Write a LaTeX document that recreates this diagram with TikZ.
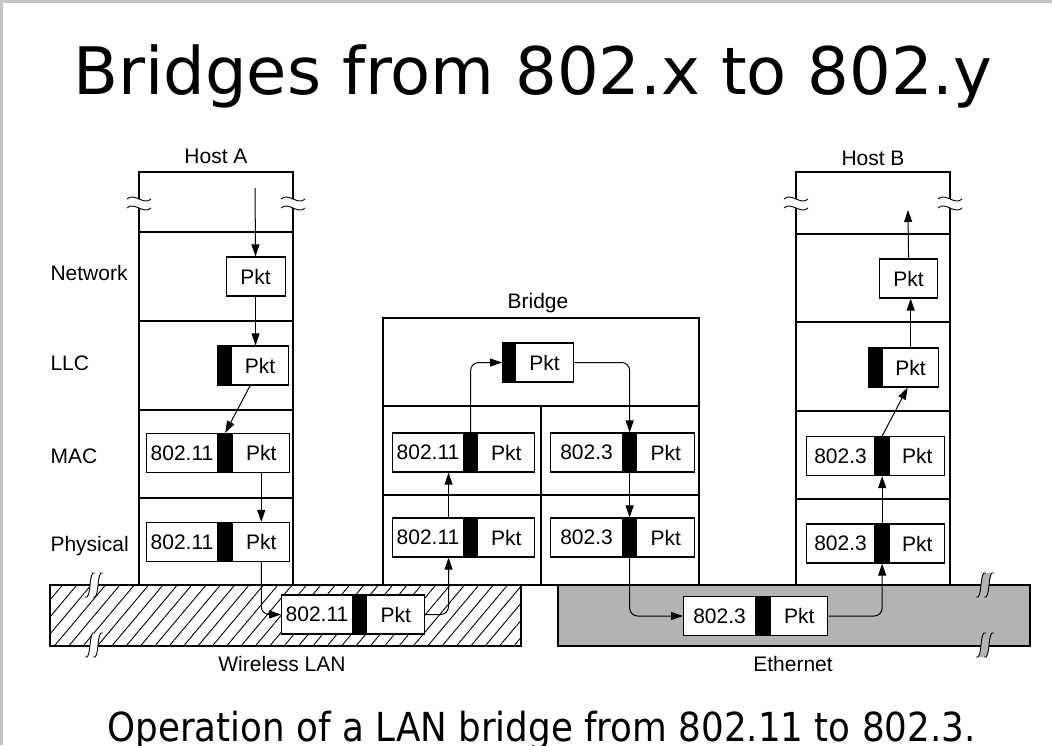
\documentclass[tikz,border=0pt]{standalone}
\usepackage{fontspec}
\usepackage{graphicx}
\setmainfont{Liberation Sans}
\newfontfamily\slidefont{DejaVu Sans}
\usetikzlibrary{arrows.meta,patterns.meta}
\definecolor{ethgray}{RGB}{179,179,179}
\definecolor{edgegray}{RGB}{196,196,196}
\tikzset{
  sidebreak/.pic={
    \fill[white] (-12,-4.5) .. controls (-5,-11.5) and (5,2.5) .. (12,-4.5)
      -- (12,4.5) .. controls (5,11.5) and (-5,-2.5) .. (-12,4.5) -- cycle;
    \draw[line width=0.9pt] (-12,-4.5) .. controls (-5,-11.5) and (5,2.5) .. (12,-4.5);
    \draw[line width=0.9pt] (-12,4.5) .. controls (-5,-2.5) and (5,11.5) .. (12,4.5);
  },
  lanbreak/.pic={
    \path[pic actions] (-9,12) .. controls (-2,16) and (-6,-16) .. (1,-12)
      -- (9,-12) .. controls (2,-16) and (6,16) .. (-1,12) -- cycle;
    \draw[line width=0.9pt] (-9,12) .. controls (-2,16) and (-6,-16) .. (1,-12);
    \draw[line width=0.9pt] (-1,12) .. controls (6,16) and (2,-16) .. (9,-12);
  }
}
\begin{document}
\begin{tikzpicture}[x=1pt,y=-1pt,line width=1.1pt,
  every node/.style={font=\fontsize{21}{25}\selectfont, inner sep=0pt},
  hdr/.style={draw, fill=white, minimum height=39pt, anchor=west},
  barbox/.style={draw, fill=black, minimum height=39pt, anchor=west},
  pkt/.style={draw, fill=white, minimum height=39pt, anchor=west},
  arr/.style={-{Triangle[length=12pt,width=8pt]}, line width=1pt},
  elbowarr/.style={arr, rounded corners=8pt}]

% page and slide edge
\useasboundingbox (0,0) rectangle (1052,745);
\fill[white] (0,0) rectangle (1052,745);
\fill[edgegray] (0,0) rectangle (1052,2.5);
\fill[edgegray] (0,0) rectangle (2.5,745);

% titles
\node[anchor=base west] (title) at (73,94)
  {\resizebox{919pt}{!}{\slidefont\fontsize{66}{70}\selectfont Bridges from 802.x to 802.y}};
\node[anchor=base west] (caption) at (107,741)
  {\resizebox{868pt}{\height}{\slidefont\fontsize{40}{44}\selectfont Operation of a LAN bridge from 802.11 to 802.3.}};

% the two LANs
\path[pattern={Lines[angle=50,distance=11pt,line width=0.9pt]}] (50,585) rectangle (521,646);
\draw (50,585) rectangle (521,646);
\draw[fill=ethgray] (558,585) rectangle (1030,646);
\pic[fill=white] at (94,585) {lanbreak};
\pic[fill=white] at (94,645) {lanbreak};
\pic[fill=ethgray] at (985,585) {lanbreak};
\pic[fill=ethgray] at (985,645) {lanbreak};
\node[anchor=base] (wlan) at (282,671) {Wireless LAN};
\node[anchor=base] (eth) at (793,671) {Ethernet};

% host A stack
\draw (139,172) rectangle (293,585);
\foreach \y in {232,321,410,498} \draw (139,\y) -- (293,\y);
\pic at (139,203.5) {sidebreak};
\pic at (293,203.5) {sidebreak};
\node[anchor=base] (hostA) at (216,163) {Host A};

% host B stack
\draw (796,172) rectangle (950,585);
\foreach \y in {234,322,411,499} \draw (796,\y) -- (950,\y);
\pic at (796,203.5) {sidebreak};
\pic at (950,203.5) {sidebreak};
\node[anchor=base] (hostB) at (873,165) {Host B};

% bridge
\draw (383,318) rectangle (699,585);
\draw (383,406) -- (699,406);
\draw (383,495) -- (699,495);
\draw (541,406) -- (541,585);
\node[anchor=base] (bridge) at (538,308) {Bridge};

% layer names
\node[anchor=base west] (lNet) at (50,280) {Network};
\node[anchor=base west] (lLlc) at (50,370) {LLC};
\node[anchor=base west] (lMac) at (50,463) {MAC};
\node[anchor=base west] (lPhy) at (50,551) {Physical};

% frames in host A
\node[pkt, minimum width=59pt] (aNet) at (225.5,276.5) {Pkt};
\node[barbox, minimum width=13pt] (aLlcBar) at (217,365.5) {};
\node[pkt, minimum width=57pt] (aLlcPkt) at (aLlcBar.east) {Pkt};
\node[hdr, minimum width=71pt] (aMacHdr) at (146,453) {802.11};
\node[barbox, minimum width=13pt] (aMacBar) at (aMacHdr.east) {};
\node[pkt, minimum width=57pt] (aMacPkt) at (aMacBar.east) {Pkt};
\node[hdr, minimum width=71pt] (aPhyHdr) at (146,542) {802.11};
\node[barbox, minimum width=13pt] (aPhyBar) at (aPhyHdr.east) {};
\node[pkt, minimum width=57pt] (aPhyPkt) at (aPhyBar.east) {Pkt};

% frame on the wireless LAN
\node[hdr, minimum width=71pt] (wHdr) at (281,614.5) {802.11};
\node[barbox, minimum width=12pt] (wBar) at (wHdr.east) {};
\node[pkt, minimum width=58pt] (wPkt) at (wBar.east) {Pkt};

% frames in the bridge
\node[barbox, minimum width=12pt] (bTopBar) at (502,362.5) {};
\node[pkt, minimum width=58pt] (bTopPkt) at (bTopBar.east) {Pkt};
\node[hdr, minimum width=71pt] (bLMacHdr) at (392,452.5) {802.11};
\node[barbox, minimum width=12pt] (bLMacBar) at (bLMacHdr.east) {};
\node[pkt, minimum width=57pt] (bLMacPkt) at (bLMacBar.east) {Pkt};
\node[hdr, minimum width=71pt] (bLPhyHdr) at (392,537.5) {802.11};
\node[barbox, minimum width=12pt] (bLPhyBar) at (bLPhyHdr.east) {};
\node[pkt, minimum width=57pt] (bLPhyPkt) at (bLPhyBar.east) {Pkt};
\node[hdr, minimum width=72pt] (bRMacHdr) at (550,452.5) {802.3};
\node[barbox, minimum width=12pt] (bRMacBar) at (bRMacHdr.east) {};
\node[pkt, minimum width=58pt] (bRMacPkt) at (bRMacBar.east) {Pkt};
\node[hdr, minimum width=72pt] (bRPhyHdr) at (550,537.5) {802.3};
\node[barbox, minimum width=12pt] (bRPhyBar) at (bRPhyHdr.east) {};
\node[pkt, minimum width=58pt] (bRPhyPkt) at (bRPhyBar.east) {Pkt};

% frame on the Ethernet
\node[hdr, minimum width=72pt] (eHdr) at (683,616) {802.3};
\node[barbox, minimum width=13pt] (eBar) at (eHdr.east) {};
\node[pkt, minimum width=57pt] (ePkt) at (eBar.east) {Pkt};

% frames in host B
\node[pkt, minimum width=58pt] (cNet) at (879,278.5) {Pkt};
\node[barbox, minimum width=13pt] (cLlcBar) at (868,367.5) {};
\node[pkt, minimum width=56pt] (cLlcPkt) at (cLlcBar.east) {Pkt};
\node[hdr, minimum width=68pt] (cMacHdr) at (806,456) {802.3};
\node[barbox, minimum width=13pt] (cMacBar) at (cMacHdr.east) {};
\node[pkt, minimum width=55pt] (cMacPkt) at (cMacBar.east) {Pkt};
\node[hdr, minimum width=68pt] (cPhyHdr) at (806,543.5) {802.3};
\node[barbox, minimum width=13pt] (cPhyBar) at (cPhyHdr.east) {};
\node[pkt, minimum width=55pt] (cPhyPkt) at (cPhyBar.east) {Pkt};

% packet path
\coordinate (aIn) at (255,188);
\coordinate (cOut) at (908,210);
\draw[arr] (aIn) -- (aNet.north);
\draw[arr] (aNet.south) -- (aNet.south |- aLlcPkt.north);
\draw[arr] ([xshift=-10pt]aLlcPkt.south) -- (aMacBar.north);
\draw[arr] (aMacPkt.south) -- (aPhyPkt.north);
\draw[elbowarr] (aPhyPkt.south) |- (wHdr.west);
\draw[elbowarr] (wPkt.east) -| ([xshift=20.5pt]bLPhyHdr.south);
\draw[arr] ([xshift=20.5pt]bLPhyHdr.north) -- ([xshift=20.5pt]bLMacHdr.south);
\draw[elbowarr] (bLMacBar.north) |- (bTopBar.west);
\draw[elbowarr] (bTopPkt.east) -| (bRMacBar.north);
\draw[arr] (bRMacBar.south) -- (bRPhyBar.north);
\draw[elbowarr] (bRPhyBar.south) |- (eHdr.west);
\draw[elbowarr] (ePkt.east) -| (cPhyBar.south);
\draw[arr] (cPhyBar.north) -- (cMacBar.south);
\draw[arr] (cMacBar.north) -- ([xshift=-3pt]cLlcPkt.south);
\draw[arr] (cLlcPkt.north) -- (cLlcPkt.north |- cNet.south);
\draw[arr] (cNet.north) -- (cOut);
\end{tikzpicture}
\end{document}
